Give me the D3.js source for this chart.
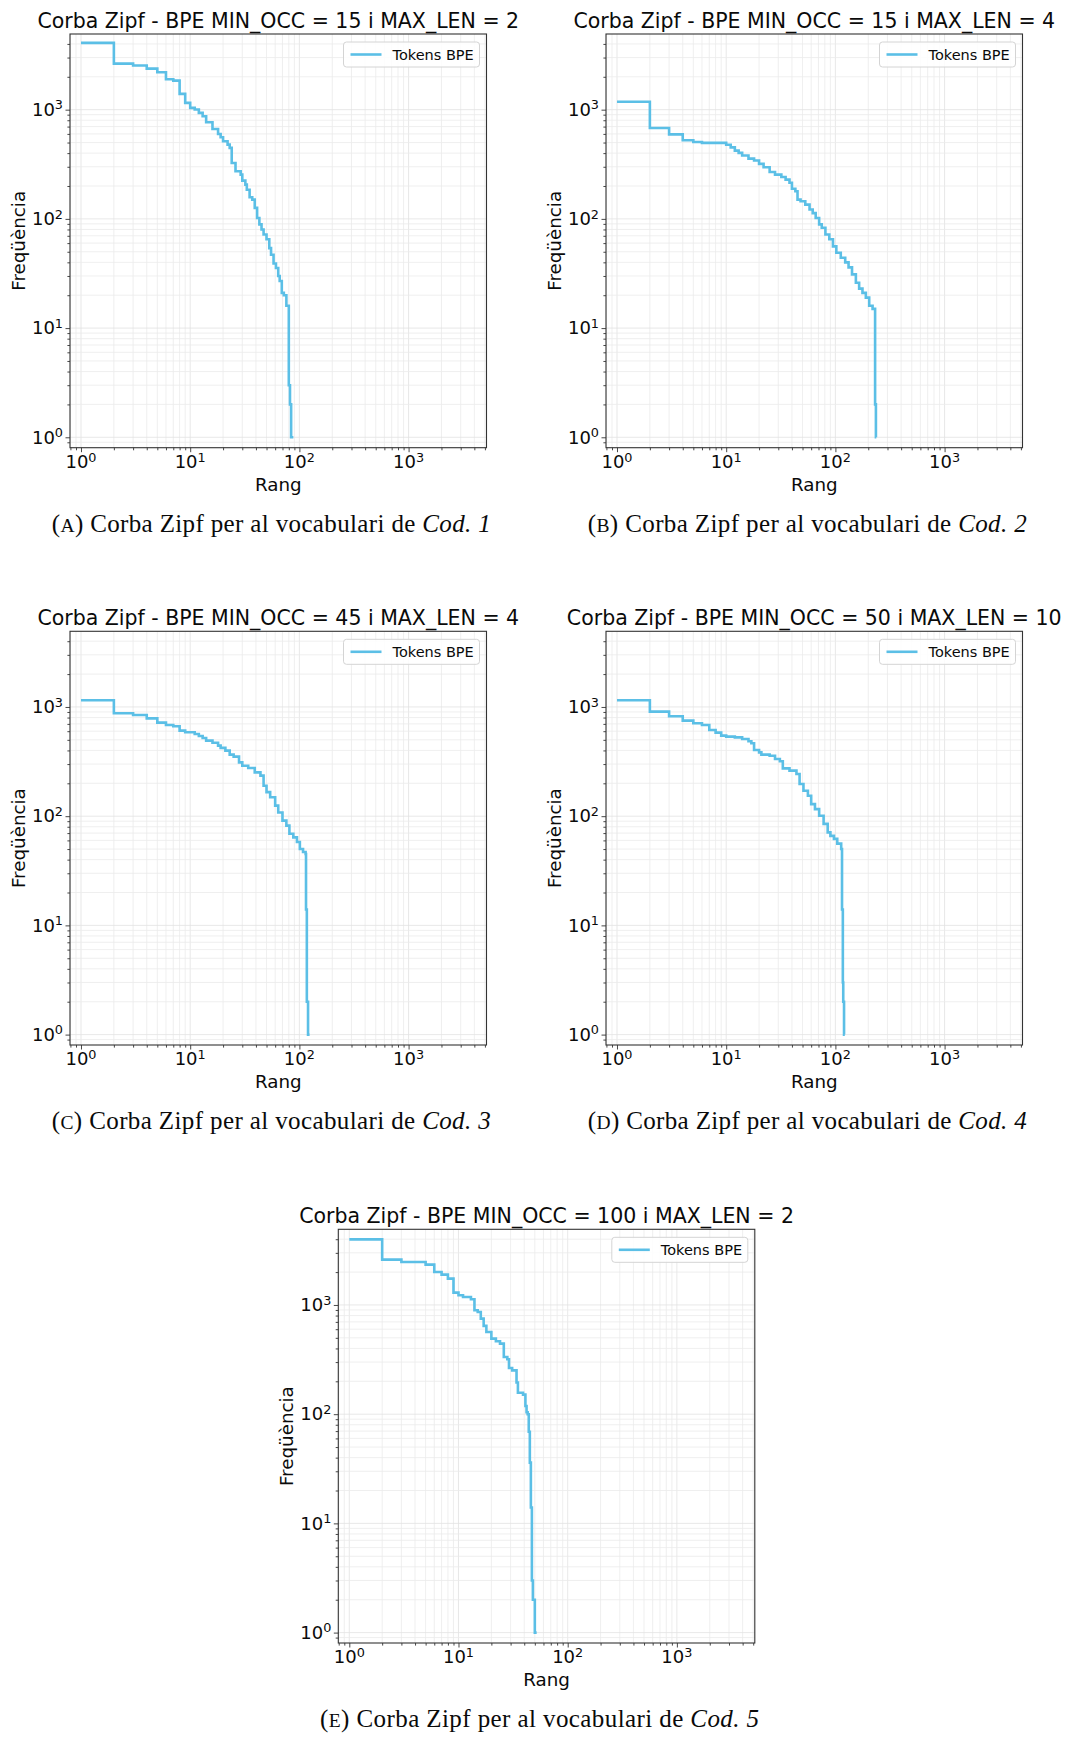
<!DOCTYPE html>
<html><head><meta charset="utf-8">
<script src="https://cdn.jsdelivr.net/npm/d3@7"></script>
<style>
body{margin:0;background:#fff}
svg{display:block}
</style>
</head><body>
<svg id="chart" width="1065" height="1739"></svg>
<script>
// ---------- data ----------
const panelTitles = [
  "Corba Zipf - BPE MIN_OCC = 15 i MAX_LEN = 2",
  "Corba Zipf - BPE MIN_OCC = 15 i MAX_LEN = 4",
  "Corba Zipf - BPE MIN_OCC = 45 i MAX_LEN = 4",
  "Corba Zipf - BPE MIN_OCC = 50 i MAX_LEN = 10",
  "Corba Zipf - BPE MIN_OCC = 100 i MAX_LEN = 2"
];
const captionLetters = ["A", "B", "C", "D", "E"];
const captionCodes = ["Cod. 1", "Cod. 2", "Cod. 3", "Cod. 4", "Cod. 5"];
const captionText = ") Corba Zipf per al vocabulari de ";
const seriesName = "Tokens BPE";
const xLabel = "Rang";
const yLabel = "Freqüència";
const majorTicks = [1, 10, 100, 1000];
const tickExponents = ["0", "1", "2", "3"];

const ranksA = [1,2,3,4,5,6,7,8,9,10,11,12,13,14,16,18,19,20,22,23,24,26,29,30,32,33,35,37,39,41,43,45,47,50,53,55,58,61,64,66,69,72,76,80,82,84,88];
const freqA  = [4085,2642,2535,2378,2201,1899,1846,1394,1153,1038,1002,934,871,767,666,599,559,514,479,447,325,273,254,224,206,185,158,150,126,102,89,80,72,65,54,47,39,35.5,30,27,21,20,16,3,2,1,1];

const ranksB = [1,2,3,4,5,6,10,11,12,13,14,16,18,20,22,25,28,32,35,38,40,43,45,48,53,58,62,66,71,75,81,88,95,102,112,123,132,142,154,165,177,190,204,219,231,235,237];
const freqB  = [1183,680,594,524,506,496,478,452,422,402,380,356,342,319,297,269,254,242,229,214,189,179,150,145,135,122,113,102,89,83,72,65,56,49,44,40,36,31,26,23,21,19,16,15,2,1,1];

const ranksC = [1,2,3,4,5,6,7,8,9,11,12,13,14,16,18,19,21,23,25,28,30,34,39,44,47,50,54,60,64,70,76,81,88,95,101,108,114,115,117,120,124];
const freqC  = [1151,875,845,787,719,684,665,607,586,566,542,520,492,470,443,422,398,366,351,311,290,276,252,235,190,166,149,125,108,91,82,69,64,58,50,47,45,14,2,1,1];

const ranksD = [1,2,3,4,5,6,7,8,9,10,12,14,16,17,18,20,21,25,28,31,33,38,44,47,51,56,60,65,71,78,85,90,97,104,113,115,117,118,120,122];
const freqD  = [1151,906,822,750,709,684,615,582,546,535,527,509,485,465,404,384,366,358,334,318,274,261,243,197,171,154,129,116,101,85,71,66,62,56,50,14,3,2,1,1];

const ranksE = [1,2,3,5,6,7,8,9,10,11,13,14,15,16,17,18,20,22,24,26,28,29,31,34,35,39,41,42,43,44,45,46,47,48,50,52];
const freqE  = [3990,2600,2475,2340,2006,1896,1743,1298,1227,1184,1127,894,863,750,643,566,492,465,443,334,318,265,252,195,157,151,119,104,100,69,36,14,3,2,1,1];

const allRanks = [ranksA, ranksB, ranksC, ranksD, ranksE];
const allFreqs = [freqA, freqB, freqC, freqD, freqE];

// axis limits (log scale)
const xDomain = [0.793, 5170];
const yDomain = [0.803, 4930];

// ---------- layout ----------
const W = 416.5, H = 413.7;
const layout = [
  {x: 70, y: 34}, {x: 606, y: 34},
  {x: 70, y: 631.3}, {x: 606, y: 631.3},
  {x: 338.3, y: 1229.3}
];
const lineColor = "#5bbfe6";
const sans = "'DejaVu Sans', sans-serif";
const serif = "'Liberation Serif', 'Times New Roman', serif";

const svg = d3.select("#chart");
svg.append("rect").attr("width", 1065).attr("height", 1739).attr("fill", "#fff");

const isMajor = v => Math.abs(Math.log10(v) - Math.round(Math.log10(v))) < 1e-9;

function drawPanel(i) {
  const L = layout[i];
  const g = svg.append("g").attr("transform", `translate(${L.x},${L.y})`);
  const x = d3.scaleLog().domain(xDomain).range([0, W]);
  const y = d3.scaleLog().domain(yDomain).range([H, 0]);
  const xAll = x.ticks().filter(v => v >= xDomain[0] && v <= xDomain[1]);
  const yAll = y.ticks().filter(v => v >= yDomain[0] && v <= yDomain[1]);

  // grid (major + minor)
  const grid = g.append("g");
  grid.selectAll("line.gx").data(xAll).join("line")
    .attr("x1", d => x(d)).attr("x2", d => x(d)).attr("y1", 0).attr("y2", H)
    .attr("stroke", d => isMajor(d) ? "#e2e2e2" : "#ebebeb").attr("stroke-width", 0.8);
  grid.selectAll("line.gy").data(yAll).join("line")
    .attr("y1", d => y(d)).attr("y2", d => y(d)).attr("x1", 0).attr("x2", W)
    .attr("stroke", d => isMajor(d) ? "#e2e2e2" : "#ebebeb").attr("stroke-width", 0.8);

  // step line
  const pts = d3.zip(allRanks[i], allFreqs[i]);
  const line = d3.line().x(d => x(d[0])).y(d => y(d[1])).curve(d3.curveStepAfter);
  g.append("path").datum(pts).attr("d", line)
    .attr("fill", "none").attr("stroke", lineColor).attr("stroke-width", 2.6)
    .attr("stroke-linejoin", "miter");

  // frame
  g.append("rect").attr("width", W).attr("height", H)
    .attr("fill", "none").attr("stroke", "#333").attr("stroke-width", 1.1);

  // ticks via d3 axes
  const styleAxis = sel => { sel.select(".domain").remove(); sel.selectAll("line").attr("stroke", "#333").attr("stroke-width", 0.9); };
  g.append("g").attr("transform", `translate(0,${H})`)
    .call(d3.axisBottom(x).tickValues(xAll.filter(v => !isMajor(v))).tickSize(2.6).tickFormat(""))
    .call(styleAxis);
  g.append("g").attr("transform", `translate(0,${H})`)
    .call(d3.axisBottom(x).tickValues(majorTicks).tickSize(4.5).tickFormat(""))
    .call(styleAxis);
  g.append("g")
    .call(d3.axisLeft(y).tickValues(yAll.filter(v => !isMajor(v))).tickSize(2.6).tickFormat(""))
    .call(styleAxis);
  g.append("g")
    .call(d3.axisLeft(y).tickValues(majorTicks).tickSize(4.5).tickFormat(""))
    .call(styleAxis);

  // tick labels 10^k
  majorTicks.forEach((v, k) => {
    const tx = g.append("text").attr("x", x(v)).attr("y", H + 20.5)
      .attr("text-anchor", "middle").attr("font-family", sans).attr("font-size", 18).attr("fill", "#0a0a0a");
    tx.append("tspan").text("10");
    tx.append("tspan").attr("dy", -6.5).attr("font-size", 12.8).text(tickExponents[k]);
    const ty = g.append("text").attr("x", -7).attr("y", y(v) + 6.3)
      .attr("text-anchor", "end").attr("font-family", sans).attr("font-size", 18).attr("fill", "#0a0a0a");
    ty.append("tspan").text("10");
    ty.append("tspan").attr("dy", -6.5).attr("font-size", 12.8).text(tickExponents[k]);
  });

  // axis labels
  g.append("text").attr("x", W / 2).attr("y", H + 43).attr("text-anchor", "middle")
    .attr("font-family", sans).attr("font-size", 18.3).attr("fill", "#0a0a0a").text(xLabel);
  g.append("text").attr("transform", `translate(-45,${H / 2}) rotate(-90)`).attr("text-anchor", "middle")
    .attr("font-family", sans).attr("font-size", 18.3).attr("fill", "#0a0a0a").text(yLabel);

  // title
  g.append("text").attr("x", W / 2).attr("y", -6).attr("text-anchor", "middle")
    .attr("font-family", sans).attr("font-size", 20.5).attr("fill", "#0a0a0a").text(panelTitles[i]);

  // legend
  const lw = 136, lh = 25, lx = W - 7 - lw, ly = 8;
  const lg = g.append("g").attr("transform", `translate(${lx},${ly})`);
  lg.append("rect").attr("width", lw).attr("height", lh).attr("rx", 3)
    .attr("fill", "#fff").attr("fill-opacity", 0.85).attr("stroke", "#d4d4d4").attr("stroke-width", 1);
  lg.append("line").attr("x1", 7).attr("x2", 38).attr("y1", lh / 2).attr("y2", lh / 2)
    .attr("stroke", lineColor).attr("stroke-width", 2.6);
  lg.append("text").attr("x", 49).attr("y", lh / 2 + 5).attr("font-family", sans)
    .attr("font-size", 14.5).attr("fill", "#0a0a0a").text(seriesName);

  // caption
  const cap = g.append("text").attr("x", W / 2 - 7).attr("y", H + 84).attr("text-anchor", "middle")
    .attr("font-family", serif).attr("font-size", 25).attr("fill", "#0a0a0a");
  cap.append("tspan").text("(");
  cap.append("tspan").attr("font-size", 19.5).text(captionLetters[i]);
  cap.append("tspan").text(captionText);
  cap.append("tspan").attr("font-style", "italic").text(captionCodes[i]);
  cap.attr("textLength", 439).attr("lengthAdjust", "spacing");
}

for (let i = 0; i < 5; i++) drawPanel(i);
</script>
</body></html>
